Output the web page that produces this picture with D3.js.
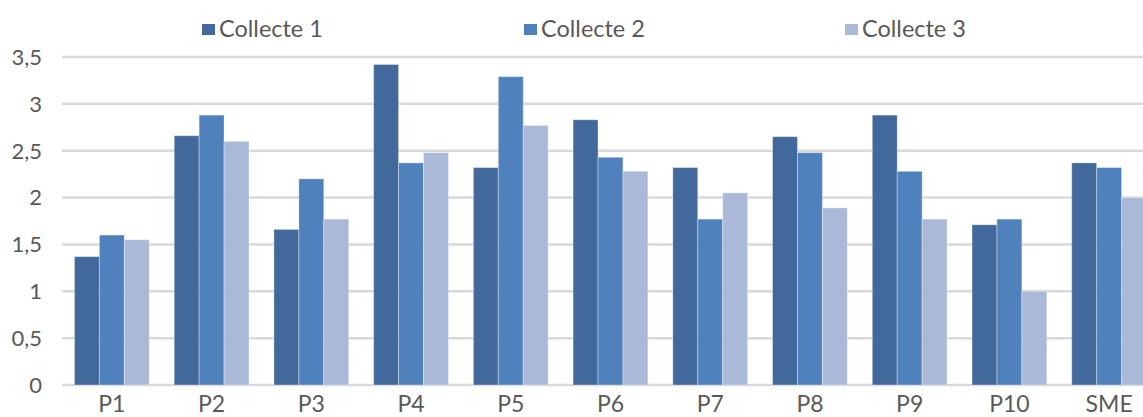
<!DOCTYPE html>
<html>
<head>
<meta charset="utf-8">
<script src="https://cdn.jsdelivr.net/npm/d3@7"></script>
<style>
  body { margin: 0; background: #fff; }
  svg { display: block; font-family: Lato, "Open Sans", sans-serif; }
</style>
</head>
<body>
<div id="chart"></div>
<script>
// chart values
const categories = ["P1", "P2", "P3", "P4", "P5", "P6", "P7", "P8", "P9", "P10", "SME"];
const seriesNames = ["Collecte 1", "Collecte 2", "Collecte 3"];
const collecte1 = [1.37, 2.66, 1.66, 3.42, 2.32, 2.83, 2.32, 2.65, 2.88, 1.71, 2.37];
const collecte2 = [1.60, 2.88, 2.20, 2.37, 3.29, 2.43, 1.77, 2.48, 2.28, 1.77, 2.32];
const collecte3 = [1.55, 2.60, 1.77, 2.48, 2.77, 2.28, 2.05, 1.89, 1.77, 1.00, 2.00];
const yTicks = [0, 0.5, 1, 1.5, 2, 2.5, 3, 3.5];

const colors = ["#41699b", "#4f81bd", "#aab9d7"];

const width = 1143, height = 417;
const margin = {top: 57, right: -16, bottom: 32, left: 62};

const svg = d3.select("#chart").append("svg")
    .attr("width", width)
    .attr("height", height);

const x = d3.scaleBand()
    .domain(categories)
    .range([margin.left, width - margin.right])
    .paddingInner(0.25)
    .paddingOuter(0.125);

const xSub = d3.scaleBand()
    .domain(seriesNames)
    .range([0, x.bandwidth()]);

const y = d3.scaleLinear()
    .domain([0, 3.5])
    .range([height - margin.bottom, margin.top]);

// gridlines
svg.append("g")
    .selectAll("line")
    .data(yTicks)
    .enter().append("line")
      .attr("x1", margin.left)
      .attr("x2", width)
      .attr("y1", d => y(d))
      .attr("y2", d => y(d))
      .attr("stroke", "#d9d9d9")
      .attr("stroke-width", 2.5);

// y tick labels
svg.append("g")
    .selectAll("text")
    .data(yTicks)
    .enter().append("text")
      .attr("x", 42)
      .attr("y", d => y(d))
      .attr("dy", "0.36em")
      .attr("text-anchor", "end")
      .style("font-size", "22px")
      .style("fill", "#595959")
      .text(d => String(d).replace(".", ","));

// bars
const rows = categories.map((c, i) => ({
    cat: c,
    values: [collecte1[i], collecte2[i], collecte3[i]]
}));

const groups = svg.append("g")
    .selectAll("g")
    .data(rows)
    .enter().append("g")
      .attr("transform", d => `translate(${x(d.cat)},0)`);

groups.selectAll("rect")
    .data(d => d.values.map((v, k) => ({name: seriesNames[k], value: v, k: k})))
    .enter().append("rect")
      .attr("x", d => xSub(d.name))
      .attr("width", xSub.bandwidth())
      .attr("y", d => y(d.value))
      .attr("height", d => y(0) - y(d.value))
      .attr("fill", d => colors[d.k])
      .attr("stroke", "rgba(255,255,255,0.35)")
      .attr("stroke-width", 1);

// x labels
svg.append("g")
    .selectAll("text")
    .data(categories)
    .enter().append("text")
      .attr("x", d => x(d) + x.bandwidth() / 2)
      .attr("y", 412)
      .attr("text-anchor", "middle")
      .style("font-size", "23px")
      .style("fill", "#595959")
      .text(d => d);

// legend
const legendX = [202, 524, 845];
const legend = svg.append("g")
    .selectAll("g")
    .data(seriesNames)
    .enter().append("g")
      .attr("transform", (d, i) => `translate(${legendX[i]},24)`);

legend.append("rect")
    .attr("width", 13)
    .attr("height", 11)
    .attr("fill", (d, i) => colors[i]);

legend.append("text")
    .attr("x", 17)
    .attr("y", 5)
    .attr("dy", "0.36em")
    .style("font-size", "23.5px")
    .style("fill", "#595959")
    .text(d => d);
</script>
</body>
</html>
